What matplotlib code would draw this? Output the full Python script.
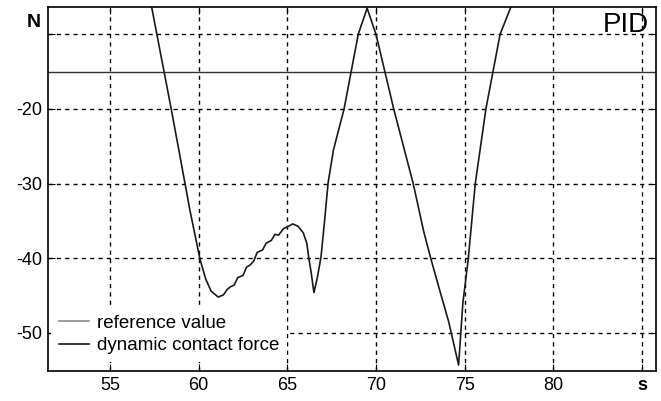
import matplotlib.pyplot as plt
from matplotlib.lines import Line2D

plt.rcParams['font.family'] = ['Liberation Sans', 'DejaVu Sans']

# time (s) and dynamic contact force (N)
t = [57.0, 57.35, 57.9, 58.45, 58.95, 59.5, 60.08, 60.4, 60.7, 61.1, 61.4,
     61.6, 61.8, 62.0, 62.2, 62.5, 62.7, 62.9, 63.1, 63.3, 63.6, 63.8, 64.1,
     64.3, 64.5, 64.8, 65.0, 65.3, 65.6, 65.9, 66.1, 66.2, 66.35, 66.5, 66.7,
     66.9, 67.1, 67.3, 67.6, 68.2, 69.0, 69.5, 70.0, 71.0, 72.1, 72.7, 73.1,
     73.5, 74.1, 74.66, 74.9, 75.2, 75.6, 76.2, 77.0, 77.6, 78.0]
force = [-1.5, -6.4, -13.2, -20.0, -26.4, -33.5, -40.2, -42.8, -44.4, -45.2, -44.9,
         -44.2, -43.8, -43.6, -42.6, -42.3, -41.2, -40.9, -40.4, -39.2, -38.9, -38.0, -37.6,
         -36.8, -36.9, -36.0, -35.8, -35.4, -35.7, -36.6, -38.0, -39.8, -42.0, -44.6, -42.5,
         -39.8, -35.0, -29.9, -25.5, -20.0, -10.0, -6.5, -10.0, -20.0, -30.0, -36.5, -40.1,
         -43.5, -48.5, -54.3, -46.0, -40.2, -30.0, -20.0, -10.0, -6.4, -2.0]
reference = -15

x_ticks = [55, 60, 65, 70, 75, 80, 85]
x_labels = ['55', '60', '65', '70', '75', '80', 's']
y_ticks = [-50, -40, -30, -20, -10]
y_labels = ['-50', '-40', '-30', '-20', '']

fig = plt.figure(figsize=(6.61, 4.01), dpi=100)
ax = fig.add_axes([0.0726, 0.0748, 0.92, 0.9077])

ax.axhline(reference, color='0.2', linewidth=1.0)
ax.plot(t, force, color='0.1', linewidth=1.2)

ax.set_xlim(51.5, 85.8)
ax.set_ylim(-55.1, -6.35)
ax.set_xticks(x_ticks)
ax.set_xticklabels(x_labels, fontsize=13)
ax.set_yticks(y_ticks)
ax.set_yticklabels(y_labels, fontsize=13)
ax.get_xticklabels()[-1].set_fontweight('bold')
ax.tick_params(direction='in', length=5, top=True, right=True, pad=4)

ax.grid(True, color='black', linestyle=(0, (3, 3)), linewidth=1.0)
for sp in ax.spines.values():
    sp.set_linewidth(1.2)

ax.text(-0.012, 0.958, 'N', transform=ax.transAxes, ha='right', va='center',
        fontsize=14, fontweight='bold')
ax.text(0.988, 0.95, 'PID', transform=ax.transAxes, ha='right', va='center',
        fontsize=20)

handles = [Line2D([], [], color='0.55', linewidth=1.2),
           Line2D([], [], color='0.1', linewidth=1.2)]
leg = ax.legend(handles, ['reference value', 'dynamic contact force'], loc='lower left',
                frameon=True, fontsize=13.5, handlelength=1.6, handletextpad=0.45,
                labelspacing=0.3, borderaxespad=0.0, borderpad=0.4,
                bbox_to_anchor=(0.005, 0.025), fancybox=False)
leg.get_frame().set_edgecolor('none')
leg.get_frame().set_facecolor('white')
leg.get_frame().set_alpha(1.0)

fig.savefig('out.png', dpi=100)
